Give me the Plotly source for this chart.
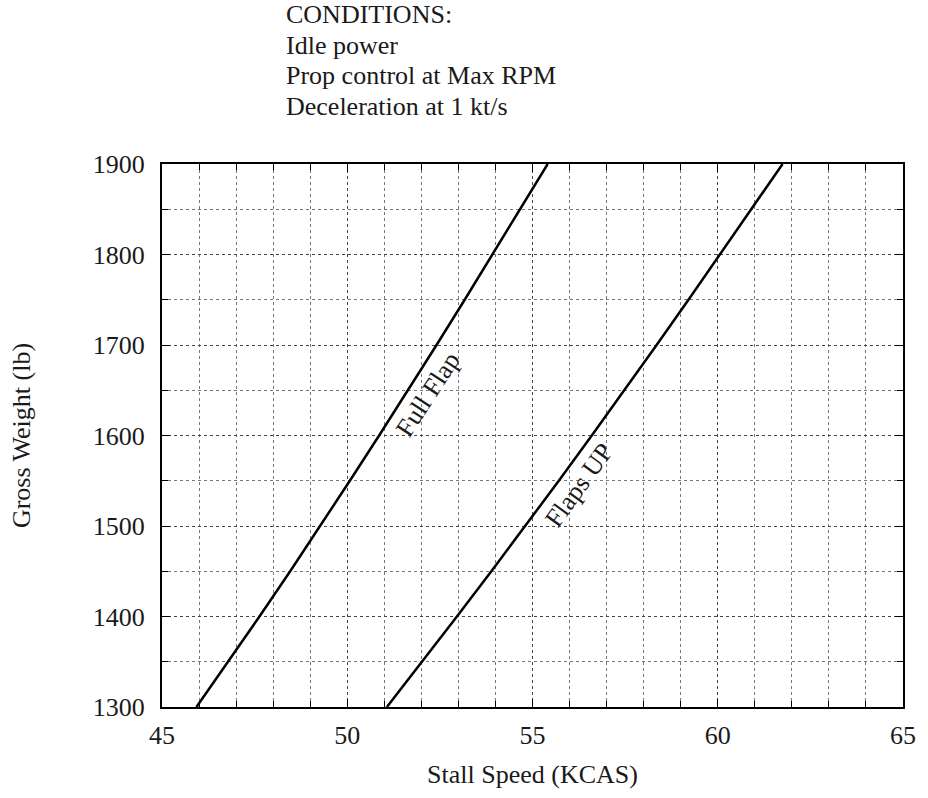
import plotly.graph_objects as go

# Data
weights = [1300, 1350, 1400, 1450, 1500, 1550, 1600, 1650, 1700, 1750, 1800, 1850, 1900]
full_flap = [45.93, 46.79, 47.63, 48.46, 49.27, 50.07, 50.86, 51.64, 52.41, 53.17, 53.92, 54.67, 55.41]
flaps_up = [51.07, 52.02, 52.96, 53.89, 54.81, 55.71, 56.60, 57.48, 58.35, 59.21, 60.06, 60.91, 61.75]

conditions = ["CONDITIONS:", "Idle power", "Prop control at Max RPM", "Deceleration at 1 kt/s"]

FONT = "Liberation Serif"
FS = 26
TXT = "#1a1a1a"

PLOT_TOP, PLOT_H, PLOT_L, PLOT_W = 164, 543, 162, 746

fig = go.Figure()
fig.add_trace(go.Scatter(x=full_flap, y=weights, mode="lines",
                         line=dict(color="black", width=2.5),
                         name="Full Flap", showlegend=False, hoverinfo="skip"))
fig.add_trace(go.Scatter(x=flaps_up, y=weights, mode="lines",
                         line=dict(color="black", width=2.5),
                         name="Flaps UP", showlegend=False, hoverinfo="skip"))

axis_common = dict(
    showline=True, linecolor="black", linewidth=2, mirror="ticks",
    ticks="inside", ticklen=8, tickwidth=1, tickcolor="black",
    showgrid=True, gridcolor="#444444", gridwidth=1, griddash="dot",
    zeroline=False,
    tickfont=dict(family=FONT, size=FS, color=TXT),
)

fig.update_xaxes(range=[45, 65], dtick=5, tick0=45, ticklabelstandoff=4,
                 minor=dict(dtick=1, ticks="inside", ticklen=6, tickcolor="black",
                            showgrid=True, gridcolor="#777777", griddash="dot", gridwidth=1),
                 title=dict(text="Stall Speed (KCAS)", font=dict(family=FONT, size=FS, color=TXT), standoff=16),
                 **axis_common)
fig.update_yaxes(range=[1300, 1900], dtick=100, tick0=1300, ticklabelstandoff=10,
                 minor=dict(dtick=50, ticks="inside", ticklen=6, tickcolor="black",
                            showgrid=True, gridcolor="#777777", griddash="dot", gridwidth=1),
                 title=dict(text="Gross Weight (lb)", font=dict(family=FONT, size=FS, color=TXT), standoff=55),
                 **axis_common)

# Condition notes, one annotation per line
line_y = [14, 45, 76, 107]
for txt, py in zip(conditions, line_y):
    fig.add_annotation(text=txt, xref="paper", yref="paper",
                       x=(285 - PLOT_L) / PLOT_W, y=1.0 + (PLOT_TOP - py) / PLOT_H,
                       xanchor="left", yanchor="middle",
                       align="left", showarrow=False,
                       font=dict(family=FONT, size=FS, color=TXT))

# Curve labels
fig.add_annotation(text="Full Flap", x=52.18, y=1645, xref="x", yref="y",
                   showarrow=False, textangle=-57,
                   font=dict(family=FONT, size=FS, color=TXT))
fig.add_annotation(text="Flaps UP", x=56.25, y=1545, xref="x", yref="y",
                   showarrow=False, textangle=-54,
                   font=dict(family=FONT, size=FS, color=TXT))

fig.update_layout(
    width=928, height=798,
    margin=dict(l=PLOT_L, r=928 - PLOT_L - PLOT_W, t=PLOT_TOP, b=798 - PLOT_TOP - PLOT_H),
    plot_bgcolor="white", paper_bgcolor="white",
    font=dict(family=FONT, color=TXT),
)

fig.write_html("out.html")
